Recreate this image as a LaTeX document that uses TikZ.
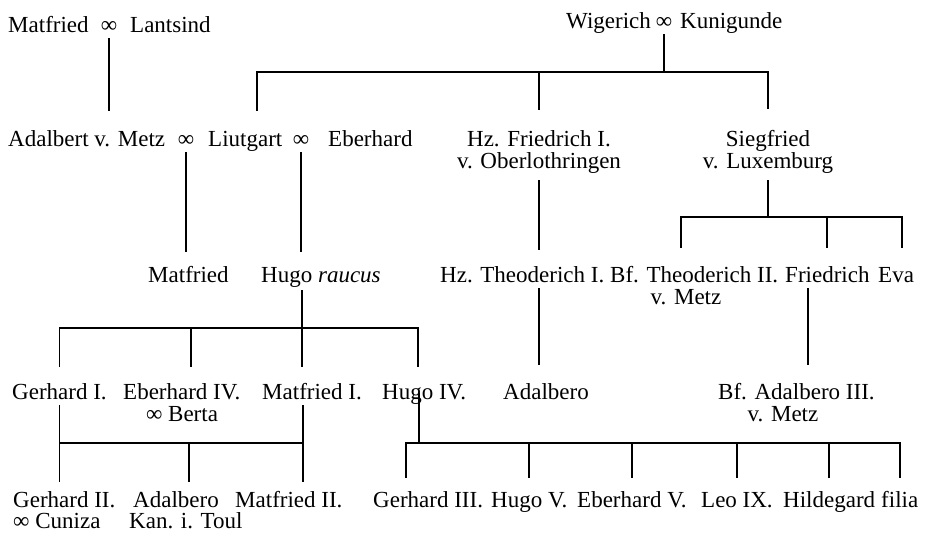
\documentclass[tikz,border=0pt]{standalone}
\usepackage{fontspec}
\setmainfont{Liberation Serif}
\usetikzlibrary{calc}
\tikzset{
    person/.style={
        inner sep=0pt,     % no padding
        anchor=base west,
        text height=16pt,
        text depth=6pt,
        font=\fontsize{23}{22}\selectfont
    },
    link/.style={
        line width=1.9pt
    }
}

\begin{document}
\begin{tikzpicture}[x=1pt, y=-1pt]
\useasboundingbox (0,0) rectangle (925,538);

\def\rA{32}
\def\rB{146}
\def\rC{282}
\def\rD{399}
\def\rE{507}
\def\dl{22}

% bars
\coordinate (wbar) at (664,72);
\coordinate (sbar) at (768,217);
\coordinate (hbar) at (302,328);
\coordinate (gbar) at (303,443);
\coordinate (ubar) at (419,443);

% first generation
\node[person] (matfried) at (8,\rA) {Matfried};
\node[person, anchor=base] (mA) at (109,\rA) {∞};
\node[person] (lantsind) at (130,\rA) {Lantsind};
\node[person] (wigerich) at (566,28) {Wigerich};
\node[person, anchor=base] (mB) at (664,28) {∞};
\node[person] (kunigunde) at (680,28) {Kunigunde};

% second generation
\node[person] (adalbert) at (8,\rB) {Adalbert v. Metz};
\node[person, anchor=base] (mC) at (186,\rB) {∞};
\node[person] (liutgart) at (208,\rB) {Liutgart};
\node[person, anchor=base] (mD) at (301,\rB) {∞};
\node[person] (eberhard) at (328,\rB) {Eberhard};
\node[person, anchor=base] (friedrichA) at (539,\rB) {Hz. Friedrich I.};
\node[person, anchor=base] (friedrichB) at (539,\rB+\dl) {v. Oberlothringen};
\node[person, anchor=base] (siegfriedA) at (768,\rB) {Siegfried};
\node[person, anchor=base] (siegfriedB) at (768,\rB+\dl) {v. Luxemburg};

% third generation
\node[person] (matfriedB) at (148,\rC) {Matfried};
\node[person] (hugo) at (261,\rC) {Hugo \textit{raucus}};
\node[person] (theoA) at (440,\rC) {Hz. Theoderich I.};
\node[person] (theoB) at (610,\rC) {Bf. Theoderich II.};
\node[person, anchor=base] (theoBm) at (686,\rC+\dl) {v. Metz};
\node[person] (friedrich) at (785,\rC) {Friedrich};
\node[person] (eva) at (878,\rC) {Eva};

% fourth generation
\node[person] (gerhardA) at (12,\rD) {Gerhard I.};
\node[person] (eberhardIV) at (123,\rD) {Eberhard IV.};
\node[person, anchor=base] (berta) at (182,\rD+\dl) {∞ Berta};
\node[person] (matfriedI) at (262,\rD) {Matfried I.};
\node[person] (hugoIV) at (382,\rD) {Hugo IV.};
\node[person] (adalberoA) at (503,\rD) {Adalbero};
\node[person] (adalberoB) at (718,\rD) {Bf. Adalbero III.};
\node[person, anchor=base] (adalberoBm) at (783,\rD+\dl) {v. Metz};

% fifth generation
\node[person] (gerhardII) at (13,\rE) {Gerhard II.};
\node[person] (cuniza) at (13,\rE+21) {∞ Cuniza};
\node[person] (adalberoK) at (133,\rE) {Adalbero};
\node[person] (kan) at (129,\rE+21) {Kan. i. Toul};
\node[person] (matfriedII) at (235,\rE) {Matfried II.};
\node[person] (gerhardIII) at (373,\rE) {Gerhard III.};
\node[person] (hugoV) at (491,\rE) {Hugo V.};
\node[person] (eberhardV) at (577,\rE) {Eberhard V.};
\node[person] (leo) at (701,\rE) {Leo IX.};
\node[person] (hildegard) at (783,\rE) {Hildegard};
\node[person] (filia) at (881,\rE) {filia};

% lines
\draw[link, shorten >=19pt] (mA.south) -- (mA.south |- adalbert.north);
\draw[link] (mB.south) -- (wbar);
\draw[link, shorten <=19pt, shorten >=21pt] ([xshift=12pt]liutgart.north) |- (wbar) -| (siegfriedA.north);
\draw[link, shorten >=20pt] (wbar -| friedrichA) -- (friedrichA.north);

\draw[link, shorten >=14pt] (mC.south) -- (mC.south |- matfriedB.north);
\draw[link, shorten >=14pt] (mD.south) -- (mD.south |- hugo.north);
\draw[link, shorten <=6pt, shorten >=16pt] (friedrichB.south) -- (friedrichB.south |- theoA.north);
\draw[link, shorten <=6pt] (siegfriedB.south) -- (sbar);
\draw[link, shorten <=18pt, shorten >=18pt] ([xshift=-13pt]theoB.north) |- (sbar) -| ([xshift=6pt]eva.north);
\draw[link, shorten >=18pt] (sbar -| friedrich) -- (friedrich.north);

\draw[link, shorten <=2pt] (hugo.south -| hbar) -- (hbar);
\draw[link, shorten <=16pt, shorten >=16pt] (gerhardA.north) |- (hbar) -| ([xshift=-6pt]hugoIV.north);
\draw[link, shorten >=16pt] ([xshift=9pt]eberhardIV.north |- hbar) -- ([xshift=9pt]eberhardIV.north);
\draw[link, shorten >=16pt] (hbar) -- (hbar |- matfriedI.north);
\draw[link, shorten >=18pt] (theoA.south -| friedrichB) -- (adalberoA.north -| friedrichB);
\draw[link, shorten >=18pt] ([xshift=-19pt]friedrich.south) -- ([xshift=-19pt]friedrich.south |- adalberoB.north);

\draw[link, shorten >=9pt] (gerhardA.south) -- (gerhardA.south |- gerhardII.north);
\draw[link] (gerhardA.south |- gbar) -- (gbar);
\draw[link, shorten >=9pt] (matfriedI.south -| gbar) -- (gbar |- matfriedII.north);
\draw[link, shorten >=9pt] ([xshift=3pt]gbar -| kan) -- ([xshift=3pt]kan |- gerhardII.north);

\draw[link] ([yshift=6pt]hugoIV.base -| ubar) -- (ubar);
\draw[link, shorten <=13pt, shorten >=13pt] ([xshift=-22pt]gerhardIII.north) |- (ubar) -| (filia.north);
\draw[link, shorten >=13pt] (ubar -| hugoV) -- (hugoV.north);
\draw[link, shorten >=13pt] (ubar -| eberhardV) -- (eberhardV.north);
\draw[link, shorten >=13pt] (ubar -| leo) -- (leo.north);
\draw[link, shorten >=13pt] (ubar -| hildegard) -- (hildegard.north);

\end{tikzpicture}
\end{document}
